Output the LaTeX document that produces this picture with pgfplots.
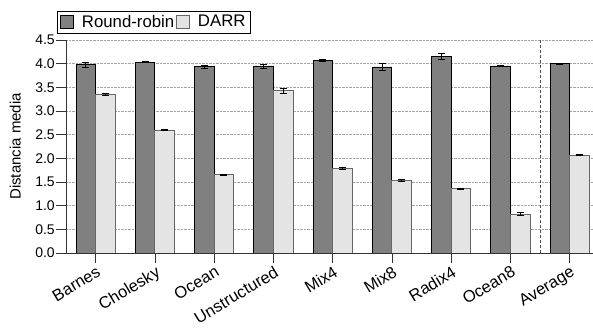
\documentclass[border=0pt]{standalone}
\usepackage{pgfplots}
\pgfplotsset{compat=1.18}
\usepackage{fontspec}
\setmainfont{Liberation Sans}
\definecolor{rr}{HTML}{808080}
\definecolor{darr}{HTML}{E4E4E4}
\begin{document}
\begin{tikzpicture}
\begin{axis}[
  name=ax,
  scale only axis,
  width=527pt, height=213pt,
  xmin=-0.5, xmax=8.39,
  ymin=0, ymax=4.5,
  axis lines*=left,
  axis line style={black!80},
  xtick={0,1,2,3,4,5,6,7,8},
  xticklabels={Barnes,Cholesky,Ocean,Unstructured,Mix4,Mix8,Radix4,Ocean8,Average},
  xticklabel style={rotate=31, anchor=north east, font=\fontsize{16.5}{18}\selectfont, inner sep=1pt, yshift=-1pt},
  ytick={0,0.5,...,4.5},
  yticklabel style={/pgf/number format/.cd, fixed, fixed zerofill, precision=1, /tikz/.cd, font=\fontsize{14}{16}\selectfont, inner sep=1pt},
  /pgf/number format/assume math mode=true,
  tick align=outside,
  major tick length=10pt,
  tick style={black!80, line width=0.6pt},
  ymajorgrids,
  grid style={densely dotted, gray!70, line width=0.6pt},
  ylabel={Distancia media},
  ylabel style={font=\fontsize{15}{17}\selectfont},
  ylabel shift=10pt,
  legend style={at={(axis description cs:-0.017,1.033)}, anchor=south west, draw=black, font=\fontsize{16.8}{18}\selectfont, inner xsep=3pt, inner ysep=2pt, /tikz/every odd column/.append style={column sep=1pt}},
  legend columns=2,
  legend image code/.code={\draw[#1] (0pt,-6pt) rectangle (13pt,7pt); \path (18pt,0pt);},
  error bars/error bar style={black, line width=0.7pt},
  error bars/error mark options={rotate=90, mark size=3.5pt, black, line width=0.7pt},
]
\addplot[ybar, bar width=0.33, bar shift=0, fill=rr, draw=black, line width=0.7pt,
  error bars/.cd, y dir=both, y explicit]
coordinates {
(-0.165,3.98) +- (0,0.05)
(0.835,4.03) +- (0,0.01)
(1.835,3.94) +- (0,0.03)
(2.835,3.95) +- (0,0.04)
(3.835,4.07) +- (0,0.02)
(4.835,3.93) +- (0,0.07)
(5.835,4.15) +- (0,0.07)
(6.835,3.95) +- (0,0.01)
(7.835,4.00) +- (0,0.015)
};
\addlegendentry{Round-robin}
\addplot[ybar, bar width=0.33, bar shift=0, fill=darr, draw=black!60, line width=0.7pt,
  error bars/.cd, y dir=both, y explicit]
coordinates {
(0.165,3.35) +- (0,0.015)
(1.165,2.60) +- (0,0.02)
(2.165,1.65) +- (0,0.01)
(3.165,3.43) +- (0,0.05)
(4.165,1.79) +- (0,0.02)
(5.165,1.53) +- (0,0.02)
(6.165,1.36) +- (0,0.01)
(7.165,0.82) +- (0,0.03)
(8.165,2.07) +- (0,0.01)
};
\addlegendentry{DARR}
\addplot[sharp plot, no marks, densely dashed, black!70, line width=0.9pt, forget plot]
coordinates {(7.5,0) (7.5,4.5)};
\end{axis}
\path ([xshift=-66pt,yshift=-76pt]ax.south west) ([yshift=40pt]ax.north east);
\end{tikzpicture}
\end{document}
